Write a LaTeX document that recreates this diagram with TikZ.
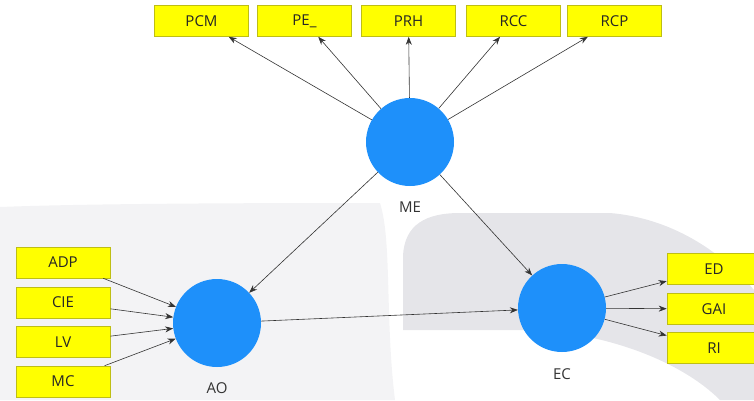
\documentclass[tikz,border=0pt]{standalone}
\usepackage{fontspec}
\setmainfont{Open Sans}
\usetikzlibrary{arrows.meta}
\definecolor{lvblue}{RGB}{30,144,250}
\definecolor{indyellow}{RGB}{255,255,0}
\definecolor{indborder}{RGB}{190,190,20}
\definecolor{wmdark}{RGB}{229,229,233}
\definecolor{wmlight}{RGB}{243,243,245}
\begin{document}
\begin{tikzpicture}[x=1pt,y=-1pt,
 ind/.style={draw=indborder, line width=0.6pt, fill=indyellow, minimum width=94pt, minimum height=31pt, inner sep=0pt, font=\fontsize{15}{18}\selectfont, text=black!85},
 lat/.style={circle, fill=lvblue, minimum size=88pt, inner sep=0pt},
 lbl/.style={font=\fontsize{15}{18}\selectfont, text=black!80},
 arr/.style={-{Stealth[length=8pt,width=6pt]}, line width=0.6pt, draw=black!80}]
\useasboundingbox (0,0) rectangle (754,400);
% faint watermark
\fill[wmlight] (0,400) -- (0,207) .. controls (100,203) and (300,203) .. (380,203) .. controls (392,240) and (385,320) .. (395,400) -- cycle;
\fill[wmdark] (403,330) -- (403,255) .. controls (405,225) and (425,213) .. (460,213) -- (610,213) .. controls (670,218) and (720,250) .. (754,290) -- (754,400) -- (720,400) .. controls (680,360) and (600,330) .. (520,330) -- cycle;
% latent variables
\node[lat] (ME) at (410,142) {};
\node[lat] (AO) at (217,323) {};
\node[lat] (EC) at (562,308) {};
\node[lbl] (MEl) at (410,207) {ME};
\node[lbl] (AOl) at (217,388) {AO};
\node[lbl] (ECl) at (562,374) {EC};
% indicators
\node[ind] (PCM) at (201.5,21) {PCM};
\node[ind] (PE) at (304.5,21) {PE\_};
\node[ind] (PRH) at (408.5,21) {PRH};
\node[ind] (RCC) at (513.5,21) {RCC};
\node[ind] (RCP) at (614.5,21) {RCP};
\node[ind] (ADP) at (63,262.5) {ADP};
\node[ind] (CIE) at (63,302.5) {CIE};
\node[ind] (LV) at (63,342) {LV};
\node[ind] (MC) at (63,381.5) {MC};
\node[ind] (ED) at (714,269) {ED};
\node[ind] (GAI) at (714,309) {GAI};
\node[ind] (RI) at (714,348) {RI};
% connectors
\foreach \t in {PCM,PE,PRH,RCC,RCP} \draw[arr] (ME) -- (\t);
\draw[arr] (ME) -- (AO);
\draw[arr] (ME) -- (EC);
\draw[arr] (AO) -- (EC);
\foreach \s in {ADP,CIE,LV,MC} \draw[arr] (\s) -- (AO);
\foreach \t in {ED,GAI,RI} \draw[arr] (EC) -- (\t);
\end{tikzpicture}
\end{document}
